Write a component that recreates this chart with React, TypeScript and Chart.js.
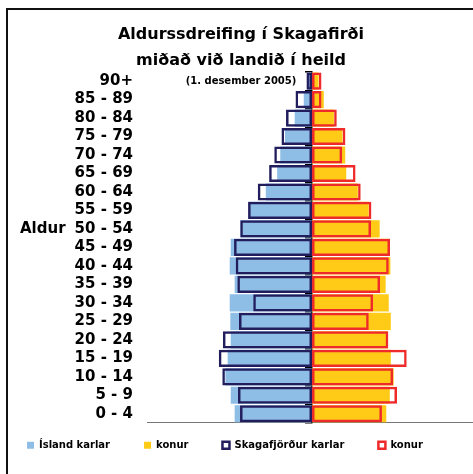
import React, { useEffect, useRef } from "react";
import { Chart, registerables } from "chart.js";

Chart.register(...registerables);

// ---- data (percent of population, males negative) ----
const ageGroups = [
  "90+", "85 - 89", "80 - 84", "75 - 79", "70 - 74", "65 - 69", "60 - 64",
  "55 - 59", "50 - 54", "45 - 49", "40 - 44", "35 - 39", "30 - 34",
  "25 - 29", "20 - 24", "15 - 19", "10 - 14", "5 - 9", "0 - 4",
];

const icelandMale = [
  -0.2, -0.4, -0.84, -1.31, -1.54, -1.69, -2.24, -3.08, -3.47, -3.94,
  -3.99, -3.75, -3.99, -3.96, -3.94, -4.09, -4.2, -3.94, -3.75,
];
const icelandFemale = [
  0.32, 0.57, 1.06, 1.48, 1.61, 1.66, 2.22, 2.75, 3.28, 3.78,
  3.8, 3.57, 3.72, 3.82, 3.67, 3.82, 3.96, 3.77, 3.6,
];
const skagafjordurMale = [
  -0.27, -0.8, -1.26, -1.48, -1.83, -2.08, -2.63, -3.1, -3.48, -3.78,
  -3.7, -3.62, -2.85, -3.54, -4.32, -4.52, -4.35, -3.59, -3.49,
];
const skagafjordurFemale = [
  0.46, 0.46, 1.2, 1.62, 1.46, 2.11, 2.36, 2.88, 2.86, 3.78,
  3.72, 3.3, 2.96, 2.75, 3.7, 4.59, 3.93, 4.12, 3.39,
];

const seriesNames = ["Ísland karlar", "konur", "Skagafjörður karlar", "konur"];
const titleLines = ["Aldurssdreifing í Skagafirði", "miðað við landið í heild"];
const subtitleText = "(1. desember 2005)";
const axisTitle = "Aldur";
const axisTitleRow = "50 - 54";

const FONT = "'DejaVu Sans', Verdana, sans-serif";

export default function App() {
  const ref = useRef<HTMLCanvasElement | null>(null);

  useEffect(() => {
    if (!ref.current) return;
    Chart.defaults.font.family = FONT;
    Chart.defaults.color = "#000";

    const aldurPlugin = {
      id: "aldurLabel",
      afterDraw(chart: any) {
        const ctx = chart.ctx;
        const y = chart.scales.y.getPixelForValue(ageGroups.indexOf(axisTitleRow));
        ctx.save();
        ctx.font = `bold 15px ${FONT}`;
        ctx.fillStyle = "#000";
        ctx.textAlign = "left";
        ctx.textBaseline = "middle";
        ctx.fillText(axisTitle, 27, y);
        ctx.restore();
      },
    };
    const legendShift = {
      id: "legendShift",
      afterLayout(chart: any) {
        const l = chart.legend;
        if (l) {
          l.top -= 16;
          l.bottom -= 16;
        }
      },
    };

    const chart = new Chart(ref.current, {
      type: "bar",
      data: {
        labels: ageGroups,
        datasets: [
          {
            label: seriesNames[0],
            data: icelandMale,
            backgroundColor: "#8EBEE6",
            borderWidth: 0,
            order: 1,
          },
          {
            label: seriesNames[1],
            data: icelandFemale,
            backgroundColor: "#FFCB16",
            borderWidth: 0,
            order: 1,
          },
          {
            label: seriesNames[2],
            data: skagafjordurMale,
            backgroundColor: "rgba(0,0,0,0)",
            borderColor: "#221E5E",
            borderWidth: 2.5,
            borderSkipped: false,
            order: 0,
          },
          {
            label: seriesNames[3],
            data: skagafjordurFemale,
            backgroundColor: "rgba(0,0,0,0)",
            borderColor: "#EE2A2A",
            borderWidth: 2.5,
            borderSkipped: false,
            order: 0,
          },
        ],
      },
      options: {
        indexAxis: "y",
        responsive: false,
        animation: false,
        devicePixelRatio: 1,
        datasets: {
          bar: {
            grouped: false,
            barPercentage: 0.93,
            categoryPercentage: 1,
          },
        },
        layout: { padding: 0 },
        scales: {
          x: {
            type: "linear",
            position: "bottom",
            min: -8,
            max: 8.58,
            ticks: { display: false },
            grid: { display: false, drawTicks: false },
            border: { display: true, color: "#777", width: 1 },
          },
          y: {
            type: "category",
            position: "left",
            offset: true,
            grid: { display: false, drawTicks: false, offset: true },
            border: { display: false },
            ticks: {
              padding: 14,
              color: "#000",
              autoSkip: false,
              font: { size: 15, weight: "bold" },
            },
            afterFit: (s: any) => {
              s.width = 154;
            },
          },
          yc: {
            type: "category",
            position: { x: 0 },
            offset: true,
            grid: {
              display: true,
              drawOnChartArea: false,
              drawTicks: true,
              tickLength: 6,
              offset: true,
              color: "#000",
              lineWidth: 1.5,
            },
            ticks: { display: false },
            border: { display: true, color: "#000", width: 1.5 },
          },
        } as any,
        plugins: {
          title: {
            display: true,
            text: titleLines,
            color: "#000",
            font: { size: 16, weight: "bold", lineHeight: 1.67 },
            padding: { top: 12, bottom: -2.6 },
          },
          subtitle: {
            display: true,
            text: subtitleText,
            color: "#000",
            font: { size: 10, weight: "bold", lineHeight: 1.2 },
            padding: { top: 3.2, bottom: -16 },
          },
          legend: {
            display: true,
            position: "bottom",
            align: "start",
            labels: {
              boxWidth: 7,
              boxHeight: 7,
              padding: 34,
              color: "#000",
              font: { size: 10, weight: "bold" },
              sort: (a: any, b: any) => a.datasetIndex - b.datasetIndex,
            },
          },
          tooltip: { enabled: false },
        },
      } as any,
      plugins: [aldurPlugin, legendShift],
    });
    return () => chart.destroy();
  }, []);

  return (
    <div
      style={{
        position: "fixed",
        left: 0,
        top: 0,
        width: 473,
        height: 474,
        overflow: "hidden",
        background: "#fff",
      }}
    >
      <canvas
        ref={ref}
        width={496}
        height={468}
        style={{ position: "absolute", left: -7, top: 9, width: 496, height: 468 }}
      />
      <div
        style={{
          position: "absolute",
          left: 6,
          top: 8,
          width: 600,
          height: 600,
          borderLeft: "2px solid #111",
          borderTop: "2px solid #111",
          pointerEvents: "none",
        }}
      />
    </div>
  );
}
